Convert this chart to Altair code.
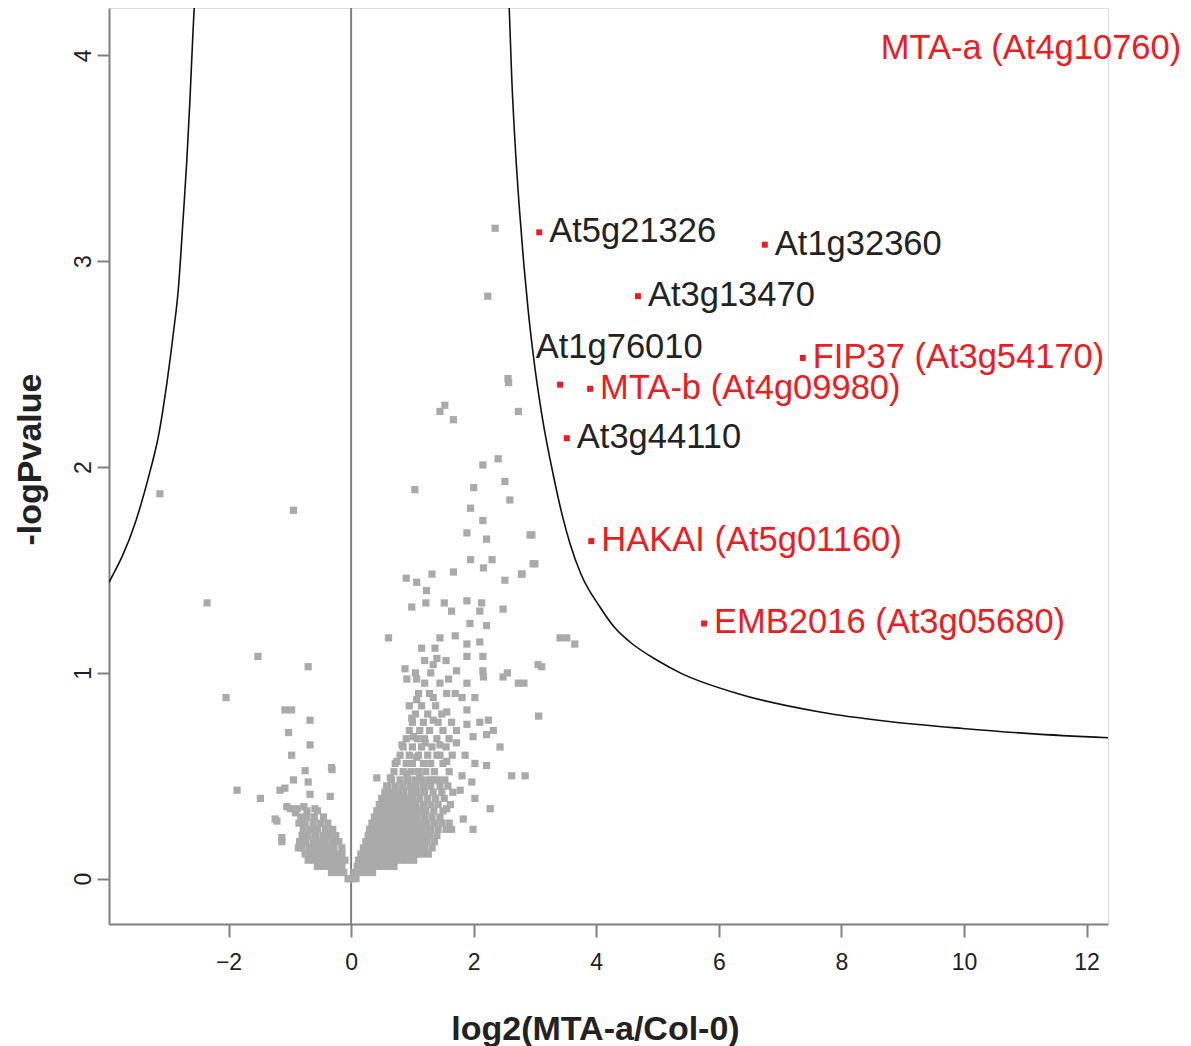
import altair as alt
import pandas as pd

# ---------------- data ----------------
X_TICKS = [-2, 0, 2, 4, 6, 8, 10, 12]
Y_TICKS = [0, 1, 2, 3, 4]

# threshold curves
LEFT_CURVE_X = [-3.95, -3.52, -3.28, -3.15, -3.00, -2.90, -2.82, -2.74, -2.68, -2.63, -2.58, -2.56]
LEFT_CURVE_Y = [1.44, 1.73, 1.98, 2.14, 2.42, 2.65, 2.86, 3.21, 3.49, 3.78, 4.11, 4.23]
RIGHT_CURVE_X = [2.58, 2.62, 2.68, 2.75, 2.82, 2.89, 2.97, 3.12, 3.30, 3.45, 3.57, 3.75, 4.06, 4.30,
                 4.55, 5.00, 5.37, 6.30, 7.65, 8.74, 9.98, 11.08, 12.35]
RIGHT_CURVE_Y = [4.23, 3.90, 3.55, 3.24, 2.98, 2.76, 2.55, 2.24, 1.96, 1.76, 1.63, 1.48, 1.32, 1.22,
                 1.15, 1.06, 1.00, 0.90, 0.81, 0.765, 0.73, 0.705, 0.685]

# scattered (non-significant) proteins outside the dense core
ISO_X = [1.45, 1.53, 1.67, 2.73, 2.57, 2.35, 2.23, 2.56,
         1.04, 2.00, 2.15, 2.40, 2.51, 2.59, 1.95, 2.15, 1.89, 2.21, 2.95,
         1.95, 2.16, 2.30, 3.00, 1.67, 1.32, 0.90, 1.07, 1.23, 2.51, 2.78,
         0.99, 1.22, 1.52, 1.64, 1.89, 2.13, 2.10, 2.48,
         0.61, 1.45, 1.70, 1.94, 2.21, 1.89, 2.10, 1.15, 1.37, 1.40, 1.89, 2.15, 3.52, 3.41, 3.65,
         0.88, 1.34, 1.72, 2.15, 3.11, 3.05,
         0.91, 1.07, 1.59, 1.89, 2.48, 2.55, 2.73, 2.16, 2.82,
         1.07, 1.34, 1.56, 1.81, 2.02,
         0.99, 1.34, 1.56, 1.89, 1.89, 2.10, 2.24, 3.06,
         0.83, 1.02, 1.21, 1.45, 1.72, 1.99, 2.21, 2.32, 2.43,
         0.75, 1.07, 1.40, 1.56, 1.86, 2.02, 2.21,
         0.42, 0.64, 0.91, 1.12, 1.34, 1.53, 1.81, 1.97, 2.62, 2.84,
         0.58, 1.78, 2.02, 2.27, 1.56, 1.83, 1.64, 1.99, 1.04,
         2.92, 2.97, 2.79,
         -0.94, -0.70, -1.08, -0.97, -0.67, -1.02, -0.67, -0.97, -0.31, -0.75, -0.94, -1.08,
         -0.70, -0.34, -0.67, -1.24, -1.13, -0.99, -0.88, -0.77, -0.59, -0.86,
         -3.12, -2.35, -2.04, -1.52, -1.86, -1.48, -1.16, -1.21, -1.05, -0.91, -1.13, -0.32]
ISO_Y = [2.27, 2.30, 2.23, 2.27, 2.41, 3.16, 2.83, 2.43,
         1.89, 1.90, 2.01, 2.04, 1.93, 1.84, 1.80, 1.74, 1.68, 1.65, 1.67,
         1.55, 1.51, 1.55, 1.53, 1.49, 1.48, 1.46, 1.44, 1.40, 1.45, 1.48,
         1.32, 1.34, 1.34, 1.30, 1.35, 1.34, 1.30, 1.31,
         1.17, 1.17, 1.18, 1.24, 1.23, 1.14, 1.15, 1.12, 1.12, 1.07, 1.08, 1.08, 1.17, 1.17, 1.14,
         1.02, 1.04, 1.01, 1.01, 1.03, 1.04,
         0.97, 0.97, 0.97, 0.95, 0.98, 1.00, 0.95, 0.98, 0.95,
         0.87, 0.88, 0.90, 0.88, 0.88,
         0.78, 0.77, 0.81, 0.82, 0.75, 0.76, 0.77, 0.79,
         0.65, 0.69, 0.66, 0.65, 0.66, 0.69, 0.70, 0.72, 0.64,
         0.57, 0.59, 0.60, 0.57, 0.60, 0.56, 0.55,
         0.49, 0.49, 0.51, 0.49, 0.48, 0.48, 0.50, 0.47, 0.50, 0.50,
         0.45, 0.43, 0.39, 0.34, 0.34, 0.29, 0.24, 0.24, 0.12,
         1.67, 1.53, 1.48,
         1.79, 1.03, 0.82, 0.82, 0.77, 0.71, 0.65, 0.60, 0.53, 0.525, 0.48, 0.44,
         0.47, 0.40, 0.41, 0.29, 0.20, 0.34, 0.34, 0.35, 0.34, 0.15,
         1.87, 1.34, 0.88, 1.08, 0.43, 0.39, 0.43, 0.28, 0.35, 0.32, 0.18, 0.54]

# dense V-shaped core, read row by row (row y, x positions in the row)
CLUSTER_ROW_Y = [0.00, 0.03, 0.06, 0.09, 0.12, 0.15, 0.18, 0.21, 0.24, 0.27, 0.30, 0.33, 0.36,
                 0.39, 0.42, 0.45, 0.48, 0.52, 0.56, 0.60, 0.64, 0.68, 0.72, 0.76, 0.80, 0.84,
                 0.90, 0.95, 1.00, 1.06]
CLUSTER_ROW_X = [
    [-0.05, 0.0, 0.08],
    [-0.32, -0.22, -0.12, 0.05, 0.15, 0.25, 0.35],
    [-0.55, -0.45, -0.35, -0.25, -0.15, 0.1, 0.2, 0.3, 0.4, 0.5, 0.6, 0.7],
    [-0.7, -0.6, -0.5, -0.4, -0.3, -0.2, -0.1, 0.12, 0.22, 0.32, 0.42, 0.52, 0.62, 0.72, 0.82, 0.92, 1.02],
    [-0.75, -0.65, -0.55, -0.45, -0.35, -0.25, -0.15, 0.16, 0.26, 0.36, 0.46, 0.56, 0.66, 0.76, 0.86,
     0.96, 1.06, 1.16, 1.26],
    [-0.8, -0.68, -0.58, -0.48, -0.38, -0.28, -0.15, 0.2, 0.3, 0.4, 0.5, 0.6, 0.7, 0.8, 0.9, 1.0, 1.1,
     1.2, 1.32],
    [-0.84, -0.74, -0.62, -0.52, -0.42, -0.3, -0.2, 0.24, 0.34, 0.44, 0.54, 0.64, 0.74, 0.84, 0.94,
     1.04, 1.14, 1.24, 1.36],
    [-0.8, -0.7, -0.58, -0.46, -0.36, -0.25, 0.28, 0.38, 0.48, 0.58, 0.68, 0.78, 0.88, 0.98, 1.08,
     1.18, 1.28, 1.4],
    [-0.78, -0.66, -0.55, -0.42, -0.3, 0.3, 0.4, 0.5, 0.6, 0.7, 0.8, 0.9, 1.0, 1.1, 1.2, 1.3, 1.42, 1.55],
    [-0.85, -0.75, -0.62, -0.5, -0.38, 0.34, 0.44, 0.54, 0.64, 0.74, 0.84, 0.94, 1.04, 1.14, 1.24,
     1.36, 1.48, 1.6],
    [-0.82, -0.72, -0.6, -0.45, 0.38, 0.48, 0.58, 0.68, 0.78, 0.88, 0.98, 1.08, 1.2, 1.32, 1.45],
    [-0.72, -0.55, 0.42, 0.52, 0.62, 0.72, 0.82, 0.92, 1.02, 1.12, 1.22, 1.35, 1.5],
    [0.46, 0.56, 0.66, 0.76, 0.86, 0.96, 1.06, 1.18, 1.3, 1.42, 1.62],
    [0.5, 0.6, 0.7, 0.8, 0.9, 1.0, 1.12, 1.25, 1.38, 1.52],
    [0.55, 0.66, 0.76, 0.86, 0.98, 1.08, 1.2, 1.34, 1.48, 1.66],
    [0.6, 0.72, 0.84, 0.96, 1.06, 1.18, 1.3, 1.45, 1.58],
    [0.66, 0.8, 0.92, 1.04, 1.16, 1.28, 1.42],
    [0.7, 0.85, 0.98, 1.1, 1.22, 1.36, 1.6],
    [0.72, 0.9, 1.0, 1.18, 1.3, 1.5],
    [0.8, 0.95, 1.1, 1.25, 1.45, 1.65],
    [0.85, 1.0, 1.15, 1.32, 1.55],
    [0.9, 1.08, 1.2, 1.4, 1.6],
    [0.95, 1.12, 1.28, 1.5, 1.72],
    [1.0, 1.18, 1.42, 1.64],
    [1.05, 1.25, 1.48],
    [0.95, 1.15, 1.38],
    [1.1, 1.28, 1.7],
    [1.2, 1.45],
    [1.05, 1.3],
    [1.2, 1.55],
]

# significant proteins (red squares)
RED_X = [3.07, 6.75, 4.68, 7.37, 3.41, 3.90, 3.52, 3.92, 5.76]
RED_Y = [3.14, 3.08, 2.83, 2.53, 2.40, 2.38, 2.14, 1.64, 1.24]

# annotations
LABEL_TEXT = ["MTA-a (At4g10760)", "At5g21326", "At1g32360", "At3g13470", "At1g76010",
              "FIP37 (At3g54170)", "MTA-b (At4g09980)", "At3g44110", "HAKAI (At5g01160)",
              "EMB2016 (At3g05680)"]
LABEL_X = [8.48, 3.07, 6.75, 4.68, 2.85, 7.37, 3.90, 3.52, 3.92, 5.76]
LABEL_Y = [4.03, 3.14, 3.08, 2.83, 2.58, 2.53, 2.38, 2.14, 1.64, 1.24]
LABEL_GROUP = ["red", "black", "black", "black", "black", "red", "red", "black", "red", "red"]

# ---------------- build tables ----------------
RED = "#EC1C24"
INK = "#222222"
AXIS_GREY = "#808080"
FONT = "Liberation Sans"

cx, cy = [], []
for yv, xs in zip(CLUSTER_ROW_Y, CLUSTER_ROW_X):
    for xv in xs:
        cx.append(xv)
        cy.append(yv)

gray_df = pd.DataFrame({"x": ISO_X + cx, "y": ISO_Y + cy})
curve_df = pd.concat([
    pd.DataFrame({"x": LEFT_CURVE_X, "y": LEFT_CURVE_Y, "curve": "left"}),
    pd.DataFrame({"x": RIGHT_CURVE_X, "y": RIGHT_CURVE_Y, "curve": "right"}),
])
red_df = pd.DataFrame({"x": RED_X, "y": RED_Y})
label_df = pd.DataFrame({"x": LABEL_X, "y": LABEL_Y, "text": LABEL_TEXT,
                         "color": [RED if g == "red" else INK for g in LABEL_GROUP]})
zero_df = pd.DataFrame({"x": [0]})

xscale = alt.Scale(domain=[-3.95, 12.35], nice=False, zero=False)
yscale = alt.Scale(domain=[-0.22, 4.23], nice=False, zero=False)

x_axis = alt.Axis(values=X_TICKS, format="d", grid=False, domainColor=AXIS_GREY, domainWidth=2,
                  tickColor=AXIS_GREY, tickWidth=2, tickSize=13,
                  labelFont=FONT, labelFontSize=23, labelColor=INK, labelPadding=14,
                  labelBaseline="top", labelAlign="center", labelFlush=False, labelOverlap=False,
                  title="log2(MTA-a/Col-0)", titleFont=FONT, titleFontSize=34,
                  titleFontWeight="bold", titleColor=INK, titleX=486, titleY=115,
                  titleAlign="center", titleBaseline="alphabetic", titleAngle=0)
y_axis = alt.Axis(values=Y_TICKS, format="d", grid=False, domainColor=AXIS_GREY, domainWidth=2,
                  tickColor=AXIS_GREY, tickWidth=2, tickSize=12,
                  labelFont=FONT, labelFontSize=23, labelColor=INK, labelPadding=7,
                  labelAngle=270, labelAlign="center", labelBaseline="alphabetic",
                  labelFlush=False, labelOverlap=False,
                  title="-logPvalue", titleFont=FONT, titleFontSize=34,
                  titleFontWeight="bold", titleColor=INK, titleX=-79, titleY=451,
                  titleAlign="center", titleBaseline="middle", titleAngle=270)

zero_rule = alt.Chart(zero_df).mark_rule(color=AXIS_GREY, strokeWidth=2).encode(
    x=alt.X("x:Q", scale=xscale, axis=x_axis),
    y=alt.value(0), y2=alt.value(916),
)

gray = alt.Chart(gray_df).mark_square(size=52, color="#AAAAAA", opacity=1).encode(
    x=alt.X("x:Q", scale=xscale, axis=x_axis),
    y=alt.Y("y:Q", scale=yscale, axis=y_axis),
)

curves = alt.Chart(curve_df).mark_line(color="#111111", strokeWidth=1.6,
                                       interpolate="monotone", clip=True).encode(
    x=alt.X("x:Q", scale=xscale),
    y=alt.Y("y:Q", scale=yscale),
    detail="curve:N",
)

reds = alt.Chart(red_df).mark_square(size=36, color=RED, opacity=1).encode(
    x=alt.X("x:Q", scale=xscale),
    y=alt.Y("y:Q", scale=yscale),
)

labels = alt.Chart(label_df).mark_text(align="left", baseline="middle", dx=10,
                                       font=FONT, fontSize=34.5).encode(
    x=alt.X("x:Q", scale=xscale),
    y=alt.Y("y:Q", scale=yscale),
    text="text:N",
    color=alt.Color("color:N", scale=None),
)

chart = alt.layer(zero_rule, gray, curves, reds, labels).properties(
    width=999, height=916,
    padding={"left": 101, "top": 0, "right": 75, "bottom": 122},
    autosize=alt.AutoSizeParams(type="none"),
).configure_view(stroke=None).configure(background="white")

chart.save("out.html", embed_options={"renderer": "svg", "actions": False})
